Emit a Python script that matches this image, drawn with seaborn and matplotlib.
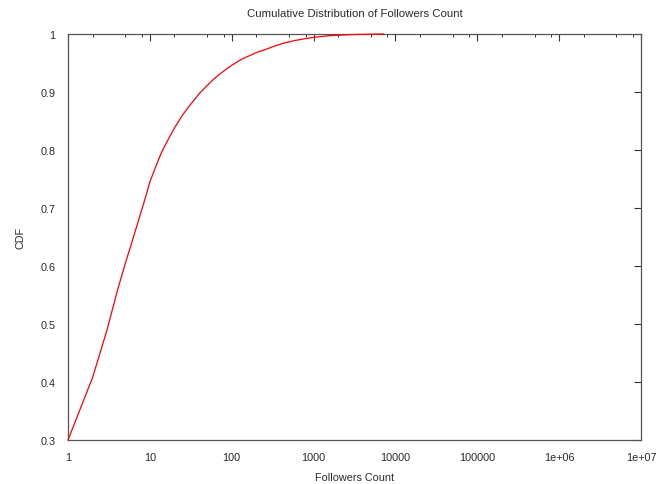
import matplotlib
matplotlib.use("Agg")
import matplotlib.pyplot as plt
import matplotlib.ticker as mticker
import seaborn as sns
import pandas as pd

# Follower-count CDF sample points
followers = [1, 2, 3, 4, 5, 6, 7, 8, 9, 10, 12, 14, 17, 20, 25, 30, 40, 50, 60, 70,
             87, 100, 130, 167, 200, 267, 330, 426, 600, 800, 989, 1500, 2090, 3000,
             4500, 7200]
cdf = [0.300, 0.408, 0.490, 0.557, 0.604, 0.640, 0.671, 0.698, 0.722, 0.745, 0.774,
       0.797, 0.820, 0.838, 0.860, 0.875, 0.897, 0.911, 0.922, 0.930, 0.940, 0.946,
       0.956, 0.963, 0.968, 0.974, 0.979, 0.984, 0.989, 0.992, 0.994, 0.997, 0.998,
       0.999, 0.9995, 1.0]

x_ticks = [1, 10, 100, 1000, 10000, 100000, 1e6, 1e7]
x_tick_labels = ["1", "10", "100", "1000", "10000", "100000", "1e+06", "1e+07"]
y_ticks = [0.3, 0.4, 0.5, 0.6, 0.7, 0.8, 0.9, 1.0]
y_tick_labels = ["0.3", "0.4", "0.5", "0.6", "0.7", "0.8", "0.9", "1"]

sns.set_style("white")
plt.rcParams["font.family"] = ["Liberation Sans", "DejaVu Sans"]

df = pd.DataFrame({"Followers Count": followers, "CDF": cdf})

fig = plt.figure(figsize=(6.68, 4.85), dpi=100)
ax = fig.add_axes([68 / 668, 1 - 441 / 485, (641 - 68) / 668, (441 - 35) / 485])

sns.lineplot(data=df, x="Followers Count", y="CDF", ax=ax, color="#ff0000",
             linewidth=0.9, sort=True)
for line in ax.lines:
    line.set_zorder(5)
    line.set_clip_on(False)

ax.set_xscale("log")
ax.set_xlim(1, 1e7)
ax.set_ylim(0.3, 1.0)

ax.xaxis.set_major_locator(mticker.FixedLocator(x_ticks))
ax.xaxis.set_major_formatter(mticker.FixedFormatter(x_tick_labels))
ax.xaxis.set_minor_locator(mticker.LogLocator(base=10, subs=[2, 5, 8], numticks=20))
ax.xaxis.set_minor_formatter(mticker.NullFormatter())
ax.yaxis.set_major_locator(mticker.FixedLocator(y_ticks))
ax.yaxis.set_major_formatter(mticker.FixedFormatter(y_tick_labels))

fs = 7.8
ax.tick_params(which="major", direction="in", length=5, width=0.8, color="#333333",
               top=True, right=True, labelsize=fs, pad=9, labelcolor="#2a2a2a")
ax.tick_params(which="minor", direction="in", length=2.5, width=0.7, color="#333333",
               top=True, right=True)
for s in ax.spines.values():
    s.set_color("#555555")
    s.set_linewidth(0.9)

ax.set_xlabel("Followers Count", fontsize=fs, color="#2a2a2a", labelpad=7)
ax.set_ylabel("CDF", fontsize=fs, color="#2a2a2a", labelpad=11)
ax.set_title("Cumulative Distribution of Followers Count", fontsize=8.2,
             color="#2a2a2a", pad=13)

fig.savefig("out.png", dpi=100, facecolor="white")
